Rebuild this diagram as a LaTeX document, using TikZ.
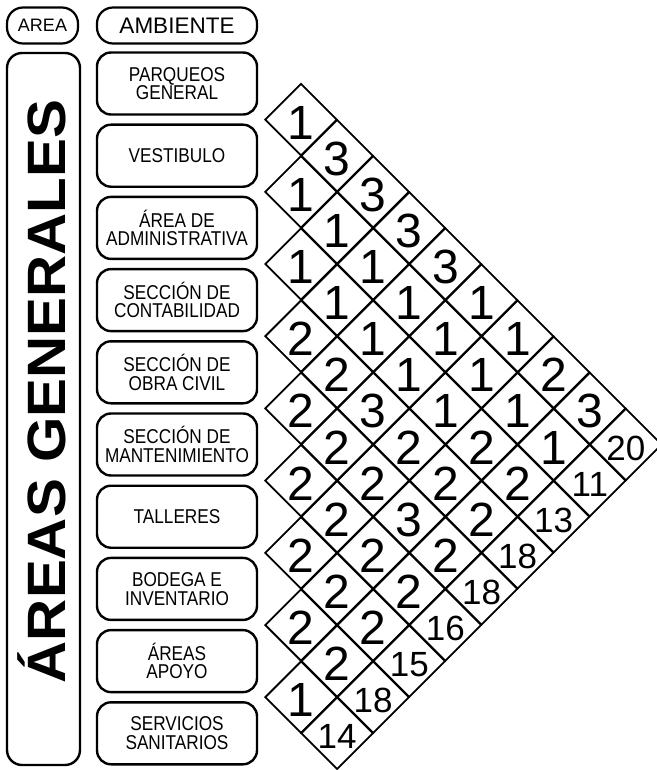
\documentclass[tikz,border=0pt]{standalone}
\usepackage{fontspec}
\setmainfont{Liberation Sans}
\newfontfamily\narrowsans[FakeStretch=0.86]{Liberation Sans}
\usetikzlibrary{shapes.geometric}

\begin{document}
\begin{tikzpicture}[x=1pt, y=-1pt,
    hdrbox/.style={rectangle, rounded corners=16pt, minimum height=36pt,
      draw, line width=2.2pt, inner sep=0pt},
    ambbox/.style={rectangle, rounded corners=14pt, minimum width=160pt, minimum height=62pt,
      draw, line width=2.4pt, align=center, inner sep=0pt, font=\narrowsans\fontsize{20}{18.5}\selectfont},
    cell/.style={diamond, aspect=1, draw, line width=1.8pt, minimum width=72.2pt, minimum height=72.2pt,
      inner sep=0pt, text height=39pt, text depth=0pt, font=\fontsize{48}{48}\selectfont},
    total/.style={cell, text height=31pt, font=\fontsize{35}{35}\selectfont}
  ]
    \useasboundingbox (0,0) rectangle (656,770);

    % Header boxes
    \node[hdrbox, minimum width=71pt, font=\fontsize{18}{18}\selectfont]    (area) at (42.5,25.5) {AREA};
    \node[hdrbox, minimum width=160pt, font=\fontsize{22.5}{22.5}\selectfont] (amb)  at (177,25.5)  {AMBIENTE};

    % Area column
    \node[rectangle, rounded corners=15pt, draw, line width=2.4pt,
      minimum width=73pt, minimum height=712pt] (gen) at (43.5,409) {};
    \node[rotate=90, xscale=1.08, anchor=base, font=\fontsize{54}{54}\selectfont\bfseries]
      (gentxt) at (65,391.5) {ÁREAS GENERALES};

    % Ambient boxes
    \node[ambbox] (parq)  at (177,83.5)  {PARQUEOS\\GENERAL};
    \node[ambbox] (vest)  at (177,155.7) {VESTIBULO};
    \node[ambbox] (adm)   at (177,227.9) {ÁREA DE\\ADMINISTRATIVA};
    \node[ambbox] (cont)  at (177,300.1) {SECCIÓN DE\\CONTABILIDAD};
    \node[ambbox] (obra)  at (177,372.3) {SECCIÓN DE\\OBRA CIVIL};
    \node[ambbox] (mant)  at (177,444.5) {SECCIÓN DE\\MANTENIMIENTO};
    \node[ambbox] (tall)  at (177,516.7) {TALLERES};
    \node[ambbox] (bod)   at (177,588.9) {BODEGA E\\INVENTARIO};
    \node[ambbox] (apoyo) at (177,661.1) {ÁREAS\\APOYO};
    \node[ambbox] (serv)  at (177,733.3) {SERVICIOS\\SANITARIOS};

    % Relation matrix
    \foreach \i/\vals in {0/{1,3,3,3,3,1,1,2,3}, 1/{1,1,1,1,1,1,1,1}, 2/{1,1,1,1,1,2,2},
        3/{2,2,3,2,2,2}, 4/{2,2,2,3,2}, 5/{2,2,2,2}, 6/{2,2,2}, 7/{2,2}, 8/{1}}
      \foreach \v [count=\k, evaluate=\k as \j using int(\i+\k)] in \vals
        \node[cell] (c-\i-\j) at ({301+36.1*(\k-1)}, {83.5+36.1*(2*\i+\k)}) {\v};

    % Totals
    \foreach \i/\t in {0/20, 1/11, 2/13, 3/18, 4/18, 5/16, 6/15, 7/18, 8/14}
      \node[total] (t-\i) at ({301+36.1*(9-\i)}, {83.5+36.1*(\i+10)}) {\t};
  \end{tikzpicture}
\end{document}
